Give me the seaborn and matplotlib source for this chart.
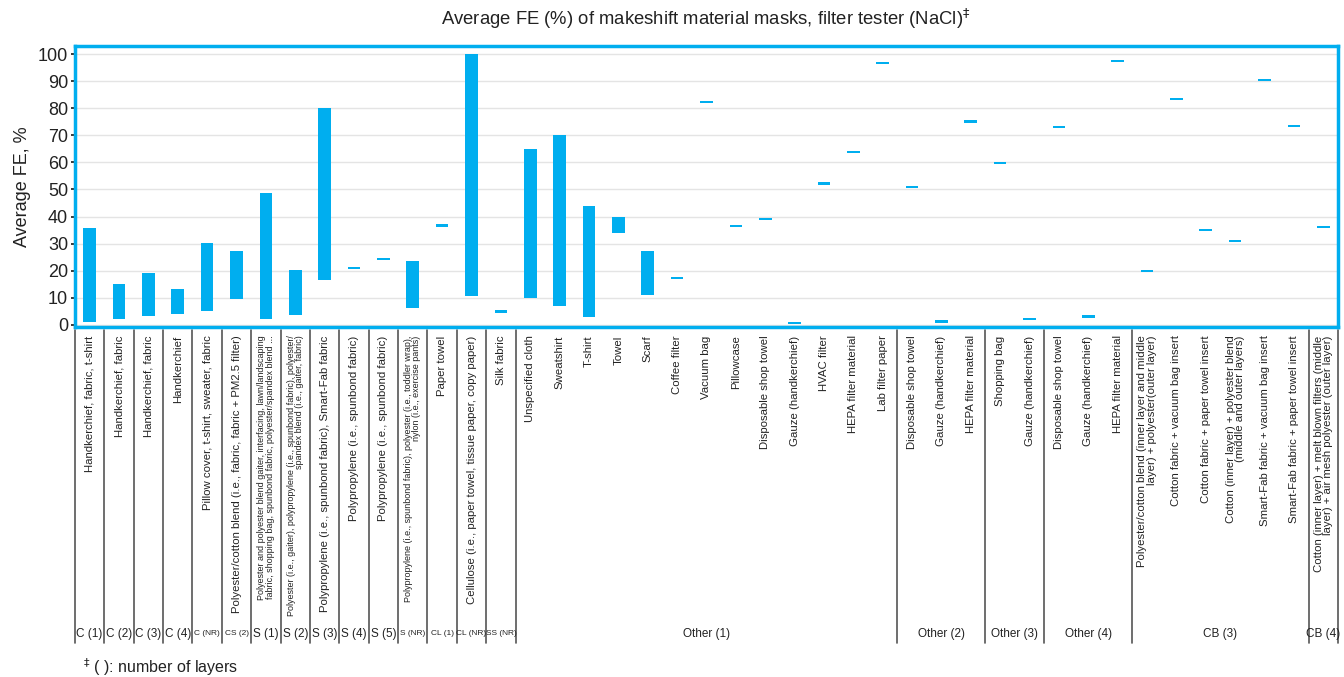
import numpy as np
import pandas as pd
import matplotlib
matplotlib.use('Agg')
import matplotlib.pyplot as plt
import seaborn as sns

# 카테고리(소재) 이름
categories = [
    'Handkerchief, fabric, t-shirt',
    'Handkerchief, fabric',
    'Handkerchief, fabric',
    'Handkerchief',
    'Pillow cover, t-shirt, sweater, fabric',
    'Polyester/cotton blend (i.e., fabric, fabric + PM2.5 filter)',
    'Polyester and polyester blend gaiter, interfacing, lawn/landscaping\nfabric, shopping bag, spunbond fabric, polyester/spandex blend ...',
    'Polyester (i.e., gaiter), polypropylene (i.e., spunbond fabric), polyester/\nspandex blend (i.e., gaiter, fabric)',
    'Polypropylene (i.e., spunbond fabric), Smart-Fab fabric',
    'Polypropylene (i.e., spunbond fabric)',
    'Polypropylene (i.e., spunbond fabric)',
    'Polypropylene (i.e., spunbond fabric), polyester (i.e., toddler wrap),\nnylon (i.e., exercise pants)',
    'Paper towel',
    'Cellulose (i.e., paper towel, tissue paper, copy paper)',
    'Silk fabric',
    'Unspecified cloth', 'Sweatshirt', 'T-shirt', 'Towel', 'Scarf', 'Coffee filter',
    'Vacuum bag', 'Pillowcase', 'Disposable shop towel', 'Gauze (handkerchief)',
    'HVAC filter', 'HEPA filter material', 'Lab filter paper',
    'Disposable shop towel', 'Gauze (handkerchief)', 'HEPA filter material',
    'Shopping bag', 'Gauze (handkerchief)',
    'Disposable shop towel', 'Gauze (handkerchief)', 'HEPA filter material',
    'Polyester/cotton blend (inner layer and middle\nlayer) + polyester(outer layer)',
    'Cotton fabric + vacuum bag insert',
    'Cotton fabric + paper towel insert',
    'Cotton (inner layer) + polyester blend\n(middle and outer layers)',
    'Smart-Fab fabric + vacuum bag insert',
    'Smart-Fab fabric + paper towel insert',
    'Cotton (inner layer) + melt blown filters (middle\nlayer) + air mesh polyester (outer layer)',
]
small_labels = [6, 7, 11]  # 작은 글씨 라벨 index

# FE 범위 (최소, 최대)
fe_low = [1.1, 2.1, 3.1, 3.9, 5.0, 9.7, 2.3, 3.7, 16.4, 20.9, 24.2, 6.3, 36.7, 10.6, 4.9,
          10.0, 7.0, 2.8, 33.8, 10.9, 17.4, 82.4, 36.6, 39.2, 0.2, 52.2, 63.9, 96.6,
          51.0, 0.9, 75.1, 59.8, 2.0, 73.0, 2.6, 97.5,
          19.9, 83.4, 34.9, 31.0, 90.4, 73.6, 36.0]
fe_high = [35.8, 15.1, 19.0, 13.1, 30.1, 27.2, 48.7, 20.4, 80.0, 20.9, 24.2, 23.6, 36.7, 99.9, 4.9,
           65.0, 70.0, 44.0, 40.0, 27.1, 17.4, 82.4, 36.6, 39.2, 1.0, 52.2, 63.9, 96.6,
           51.0, 1.6, 75.1, 59.8, 2.0, 73.0, 3.8, 97.5,
           19.9, 83.4, 34.9, 31.0, 90.4, 73.6, 36.0]

# 그룹 (이름, 개수)
group_names = ['C (1)', 'C (2)', 'C (3)', 'C (4)', 'C (NR)', 'CS (2)', 'S (1)', 'S (2)', 'S (3)',
               'S (4)', 'S (5)', 'S (NR)', 'CL (1)', 'CL (NR)', 'SS (NR)',
               'Other (1)', 'Other (2)', 'Other (3)', 'Other (4)', 'CB (3)', 'CB (4)']
group_sizes = [1] * 15 + [13, 3, 2, 3, 6, 1]
small_groups = ['C (NR)', 'CS (2)', 'S (NR)', 'CL (1)', 'CL (NR)', 'SS (NR)']

sns.set_theme(style='whitegrid')
plt.rcParams['font.family'] = ['Liberation Sans', 'DejaVu Sans']

blue = '#00AEEF'
n = len(categories)
lo = np.array(fe_low)
hi = np.array(fe_high)
thin = 0.8
height = np.where(hi - lo < thin, thin, hi - lo)
bottom = np.where(hi - lo < thin, (lo + hi) / 2 - thin / 2, lo)
df = pd.DataFrame({'pos': np.arange(n), 'height': height})

fig = plt.figure(figsize=(13.44, 6.77), dpi=100)
ax = fig.add_axes([0.0558, 0.517, 0.9397, 0.415])

sns.barplot(data=df, x='pos', y='height', bottom=bottom, native_scale=True,
            width=0.43, color=blue, errorbar=None, linewidth=0, saturation=1, ax=ax)

ax.set_xlim(-0.5, n - 0.5)
ax.set_ylim(-0.8, 103)
ax.set_yticks(range(0, 101, 10))
ax.tick_params(axis='y', labelsize=13, colors='#222222', length=3, left=True, pad=2)
ax.grid(axis='y', color='#e4e4e4', lw=1)
ax.grid(axis='x', visible=False)
ax.set_ylabel('Average FE, %', fontsize=13, color='#222222', labelpad=5)
ax.set_xlabel('')
ax.set_xticks(range(n))
ax.set_xticklabels([])
ax.tick_params(axis='x', length=0)
for sp in ax.spines.values():
    sp.set_color(blue)
    sp.set_linewidth(2.5)

# 카테고리 라벨 (세로)
for i, c in enumerate(categories):
    fs = 6.5 if i in small_labels else 8.2
    ax.text(i, -0.03, c, transform=ax.get_xaxis_transform(), rotation=90,
            ha='center', va='top', fontsize=fs, color='#222222',
            multialignment='right', linespacing=0.9)

# 구분선 & 그룹 라벨
trans = ax.get_xaxis_transform()
y_top = -0.01
y_bot = (0.05 - 0.517) / 0.415
y_grp = (0.064 - 0.517) / 0.415
edges = np.concatenate([[0], np.cumsum(group_sizes)]) - 0.5
for e in edges:
    ax.plot([e, e], [y_top, y_bot], transform=trans, color='#555555', lw=1.2, clip_on=False)
for name, a, b in zip(group_names, edges[:-1], edges[1:]):
    fs = 6.0 if name in small_groups else 8.5
    ax.text((a + b) / 2, y_grp, name, transform=trans, ha='center', va='center',
            fontsize=fs, color='#222222')

fig.text(0.525, 0.972, 'Average FE (%) of makeshift material masks, filter tester (NaCl)$^{‡}$',
         ha='center', va='center', fontsize=13.3, color='#222222')
fig.text(0.062, 0.015, '$^{‡}$ ( ): number of layers', ha='left', va='center',
         fontsize=11.5, color='#222222')

fig.savefig('out.png', dpi=100)
